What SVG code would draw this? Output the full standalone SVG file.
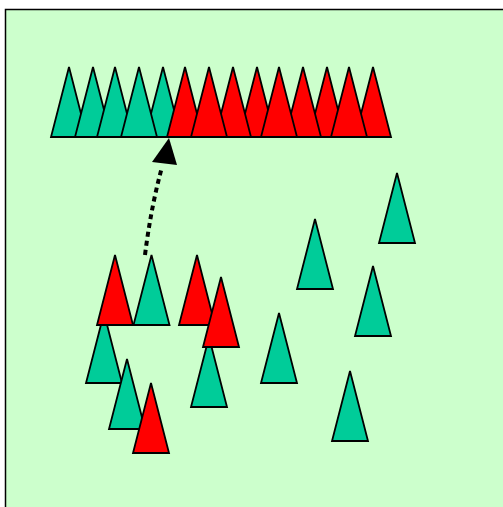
<svg xmlns="http://www.w3.org/2000/svg" width="503" height="507" viewBox="0 0 503 507">
<style>
.g{fill:#00CC99;stroke:#000;stroke-width:1.8;stroke-linejoin:miter}
.r{fill:#FF0000;stroke:#000;stroke-width:1.8;stroke-linejoin:miter}
</style>
<defs>
<polygon id="t" points="0,0 18,70 -18,70"/>
</defs>
<rect x="5.5" y="9.5" width="510" height="510" fill="#CCFFCC" stroke="#000" stroke-width="1.5"/>
<g id="top-row">
<use href="#t" class="g" x="69" y="67"/>
<use href="#t" class="g" x="93" y="67"/>
<use href="#t" class="g" x="115" y="67"/>
<use href="#t" class="g" x="163" y="67"/>
<use href="#t" class="g" x="139" y="67"/>
<use href="#t" class="r" x="185" y="67"/>
<use href="#t" class="r" x="257" y="67"/>
<use href="#t" class="r" x="233" y="67"/>
<use href="#t" class="r" x="209" y="67"/>
<use href="#t" class="r" x="327" y="67"/>
<use href="#t" class="r" x="303" y="67"/>
<use href="#t" class="r" x="279" y="67"/>
<use href="#t" class="r" x="373" y="67"/>
<use href="#t" class="r" x="349" y="67"/>
</g>
<g id="left-cluster">
<use href="#t" class="g" x="104" y="313"/>
<use href="#t" class="r" x="115" y="255"/>
<use href="#t" class="g" x="151.5" y="255"/>
<use href="#t" class="g" x="127" y="359"/>
<use href="#t" class="r" x="151" y="383"/>
<use href="#t" class="g" x="209" y="337"/>
<use href="#t" class="r" x="197" y="255"/>
<use href="#t" class="r" x="221" y="277"/>
</g>
<g id="right-cluster">
<use href="#t" class="g" x="397" y="173"/>
<use href="#t" class="g" x="315" y="219"/>
<use href="#t" class="g" x="373" y="266"/>
<use href="#t" class="g" x="279" y="313"/>
<use href="#t" class="g" x="350" y="371"/>
</g>
<g id="connectors">
<path d="M145,255 Q151,207 162,167" fill="none" stroke="#000" stroke-width="4" stroke-dasharray="5 4"/>
<polygon points="169,138 152,162 177,165" fill="#000"/>
</g>
</svg>
